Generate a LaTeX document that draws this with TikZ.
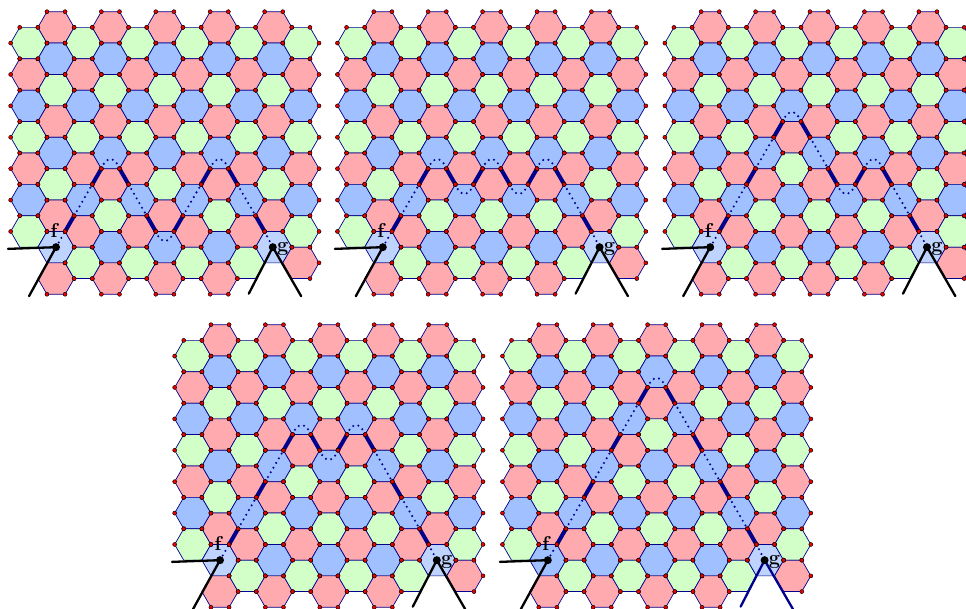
\documentclass[tikz,border=0pt]{standalone}
\usetikzlibrary{calc}
\definecolor{hred}{RGB}{255,170,175}
\definecolor{hgreen}{RGB}{210,255,200}
\definecolor{hblue}{RGB}{160,192,255}
\definecolor{hlight}{RGB}{190,212,255}
\definecolor{hnavy}{RGB}{0,0,140}
\definecolor{hdot}{RGB}{235,0,0}
\tikzset{
  hexedge/.style={draw=hnavy,line width=0.7pt,line join=round},
  vertexdot/.style={fill=hdot,draw=black,line width=0.45pt},
  pathbold/.style={draw=hnavy,line width=4pt,line cap=butt},
  pathdots/.style={draw=hnavy,line width=2.3pt,line cap=round,dash pattern=on 0pt off 5.4pt},
  endwire/.style={line width=2.3pt,line cap=round},
  enddot/.style={fill=black,circle,inner sep=0pt,minimum size=8pt},
  endlabel/.style={inner sep=0pt,font=\fontsize{20}{20}\bfseries\selectfont},
}
\makeatletter
\newcommand{\hxskip}[1]{\edef\hxtmp{\noexpand\in@{,#1,}{,114,314,415,316,2815,3015,3116,2716,}}\hxtmp}
% #1 panel id, #2 dx, #3 dy, #4 column/threshold list, #5 bold edges, #6 dotted edges,
% #7 upper arcs, #8 lower arcs, #9 f-cell colour ; \hxgwire = colour of wires at g
\newcommand{\hexpanel}[9]{%
\begin{scope}[x=9.07pt,y=-15.7pt,shift={({(28.8+#2)*1pt},{-(27.37+#3)*1pt})}]
  \foreach \c/\t in {#4}{
    \pgfmathtruncatemacro\hx{3*\c}
    \pgfmathtruncatemacro\hodd{mod(\c,2)}
    \pgfmathtruncatemacro\kmax{\hodd==1 ? (\c==9 ? 7 : 8) : (\c==0 ? 6 : 7)}
    \foreach \k in {0,...,\kmax}{
      \pgfmathtruncatemacro\hy{\hodd==1 ? 2*\k : 2*\k+1}
      \pgfmathtruncatemacro\idx{\hodd==1 ? mod(\k,3) : mod(\k+2,3)}
      \ifnum\hy>\t\relax
        \ifnum\idx=0 \def\idx{2}\else\ifnum\idx=2 \def\idx{0}\fi\fi
      \fi
      \ifcase\idx\relax \def\hc{hred}\or \def\hc{hblue}\or \def\hc{hgreen}\fi
      \ifnum\hx=3 \ifnum\hy=14 \def\hc{#9}\fi\fi
      \ifnum\hx=27 \ifnum\hy=14 \def\hc{hlight}\fi\fi
      \draw[hexedge,fill=\hc] ({\hx+2},\hy) -- ({\hx+1},{\hy+1}) -- ({\hx-1},{\hy+1}) -- ({\hx-2},\hy) -- ({\hx-1},{\hy-1}) -- ({\hx+1},{\hy-1}) -- cycle;
    }
  }
  \foreach \xa/\ya/\xb/\yb in {#5}{
    \coordinate (s) at (\xa,\ya); \coordinate (e) at (\xb,\yb);
    \draw[pathbold] (s) -- (e);
  }
  \foreach \xa/\ya/\xb/\yb in {#6}{
    \coordinate (s) at (\xa,\ya); \coordinate (e) at (\xb,\yb);
    \draw[pathdots] (s) -- (e);
  }
  \foreach \xa/\ya in {#7}{
    \coordinate (s) at (\xa,\ya); \coordinate (e) at ({\xa+2},\ya);
    \draw[pathdots] (s) .. controls +(0.5,-0.8) and +(-0.5,-0.8) .. (e);
  }
  \foreach \xa/\ya in {#8}{
    \coordinate (s) at (\xa,\ya); \coordinate (e) at ({\xa+2},\ya);
    \draw[pathdots] (s) .. controls +(0.5,0.8) and +(-0.5,0.8) .. (e);
  }
  \foreach \c/\t in {#4}{
    \pgfmathtruncatemacro\hx{3*\c}
    \pgfmathtruncatemacro\hodd{mod(\c,2)}
    \pgfmathtruncatemacro\kmax{\hodd==1 ? (\c==9 ? 7 : 8) : (\c==0 ? 6 : 7)}
    \foreach \k in {0,...,\kmax}{
      \pgfmathtruncatemacro\hy{\hodd==1 ? 2*\k : 2*\k+1}
      \foreach \ox/\oy in {2/0,1/1,-1/1,-2/0,-1/-1,1/-1}{
        \pgfmathtruncatemacro\vx{\hx+\ox}
        \pgfmathtruncatemacro\vy{\hy+\oy}
        \pgfmathtruncatemacro\vk{(\vx+2)*100+\vy}
        \hxskip{\vk}
        \ifin@\else \path[vertexdot] (\vx,\vy) circle[radius=2pt];\fi
      }
    }
  }
  \coordinate (fp#1) at (3,14);
  \coordinate (gp#1) at (26.9,14);
  \coordinate (fa#1) at ([shift={(-48pt,-1.7pt)}]fp#1);
  \coordinate (fb#1) at ([shift={(-27pt,-49pt)}]fp#1);
  \coordinate (ga#1) at ([shift={(-24pt,-46.5pt)}]gp#1);
  \coordinate (gb#1) at ([shift={(28.4pt,-49pt)}]gp#1);
  \draw[endwire] (fp#1) -- (fa#1);
  \draw[endwire] (fp#1) -- (fb#1);
  \draw[endwire,draw=\hxgwire] (gp#1) -- (ga#1);
  \draw[endwire,draw=\hxgwire] (gp#1) -- (gb#1);
  \node[enddot] (fd#1) at (fp#1) {};
  \node[enddot] (gd#1) at (gp#1) {};
  \node[endlabel] (fl#1) at ([shift={(-2pt,17pt)}]fp#1) {f};
  \node[endlabel] (gl#1) at ([shift={(10pt,-1.5pt)}]gp#1) {g};
\end{scope}}
\makeatother
\begin{document}
\begin{tikzpicture}
\useasboundingbox (0pt,0pt) rectangle (966pt,-608pt);
\clip (0pt,0pt) rectangle (966pt,-608pt);
\def\hxgwire{black}
\hexpanel{a}{0}{0}
  {0/14,1/14,2/11,3/9,4/11,5/13,6/11,7/9,8/11,9/14,10/20}
  {4/13/5/12,7/10/8/9,10/9/11/10,13/12/14/13,16/13/17/12,19/10/20/9,22/9/23/10,25/12/26/13}
  {3/14/4/13,5/12/7/10,11/10/13/12,17/12/19/10,23/10/25/12,26/13/26.9/14}
  {8/9,20/9}{14/13}{hlight}
\hexpanel{b}{326.8}{0}
  {0/14,1/14,2/11,3/9,4/11,5/9,6/11,7/9,8/11,9/14,10/20}
  {4/13/5/12,7/10/8/9,10/9/11/10,13/10/14/9,16/9/17/10,19/10/20/9,22/9/23/10,25/12/26/13}
  {3/14/4/13,5/12/7/10,23/10/25/12,26/13/26.9/14}
  {8/9,14/9,20/9}{11/10,17/10}{hlight}
\hexpanel{c}{654.2}{0}
  {0/14,1/14,2/11,3/8,4/6,5/8,6/11,7/9,8/11,9/14,10/20}
  {4/13/5/12,7/10/8/9,10/7/11/6,13/6/14/7,16/9/17/10,19/10/20/9,22/9/23/10,25/12/26/13}
  {3/14/4/13,5/12/7/10,8/9/10/7,14/7/16/9,23/10/25/12,26/13/26.9/14}
  {11/6,20/9}{17/10}{hlight}
\hexpanel{d}{164}{313}
  {0/14,1/14,2/11,3/8,4/6,5/8,6/6,7/8,8/11,9/14,10/20}
  {4/13/5/12,7/10/8/9,10/7/11/6,13/6/14/7,16/7/17/6,19/6/20/7,22/9/23/10,25/12/26/13}
  {3/14/4/13,5/12/7/10,8/9/10/7,20/7/22/9,23/10/25/12,26/13/26.9/14}
  {11/6,17/6}{14/7}{hlight}
\def\hxgwire{hnavy}
\hexpanel{e}{491.8}{313}
  {0/14,1/14,2/11,3/8,4/5,5/3,6/5,7/8,8/11,9/14,10/20}
  {4/13/5/12,7/10/8/9,10/7/11/6,13/4/14/3,16/3/17/4,19/6/20/7,22/9/23/10,25/12/26/13}
  {3/14/4/13,5/12/7/10,8/9/10/7,11/6/13/4,17/4/19/6,20/7/22/9,23/10/25/12,26/13/26.9/14}
  {14/3}{}{hblue}
\end{tikzpicture}
\end{document}
